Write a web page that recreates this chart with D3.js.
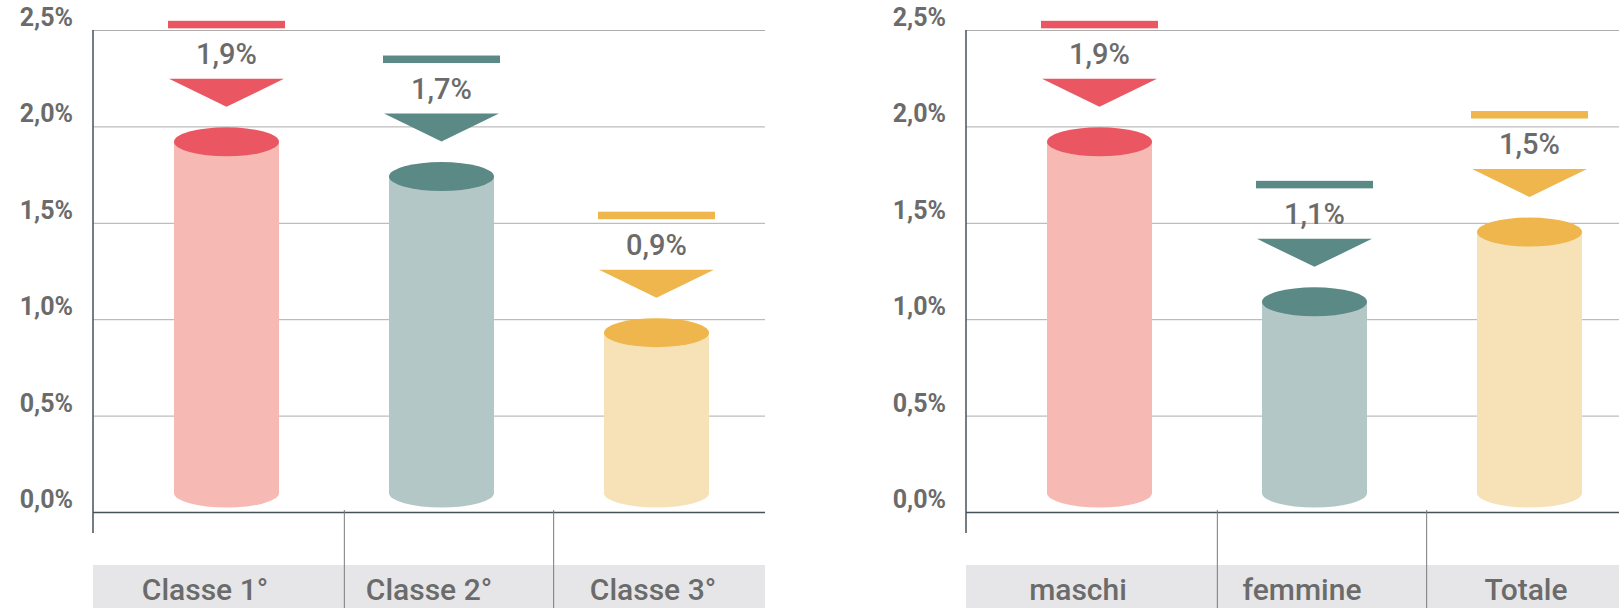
<!DOCTYPE html>
<html>
<head>
<meta charset="utf-8">
<script src="https://cdn.jsdelivr.net/npm/d3@7"></script>
<style>
  body { margin: 0; background: #fff; overflow: hidden; }
  text { font-family: Roboto, sans-serif; fill: #6b6b6b; }
</style>
</head>
<body>
<script>
const classes = ['Classe 1°', 'Classe 2°', 'Classe 3°']
const classValues = [1.92, 1.74, 0.93]
const genders = ['maschi', 'femmine', 'Totale']
const genderValues = [1.92, 1.09, 1.452]
const yTicks = [0, 0.5, 1, 1.5, 2, 2.5]

const palette = [
  { top: '#ea5763', body: '#f6b9b3' },
  { top: '#5a8986', body: '#b4c7c7' },
  { top: '#eeb64c', body: '#f7e2b8' }
]

const width = 1619, height = 608
const W = 672          // width of one chart panel
const cylW = 105, ry = 14.5

const loc = d3.formatLocale({ decimal: ',', thousands: '.', grouping: [3], currency: ['€', ''] })
const pct = v => loc.format('.1f')(v) + '%'

const y = d3.scaleLinear().domain([0, 2.5]).range([512, 30])
const base = y(0) - 19

const svg = d3.select('body')
  .append('svg')
  .attr('width', width)
  .attr('height', height)

function drawChart (x0, cats, values) {
  const g = svg.append('g').attr('transform', `translate(${x0},0)`)
  const x = d3.scaleBand().domain(cats).range([26, 671])
  const cells = d3.scaleBand().domain(cats).range([42, 670])
  const xl = d3.scalePoint().domain(cats).range([112, 560])

  // grid + tick labels
  const axis = g.append('g')
    .call(d3.axisLeft(y).tickValues(yTicks).tickSize(-W).tickPadding(20).tickFormat(pct))
  axis.select('.domain').remove()
  axis.selectAll('.tick line')
    .attr('stroke', d => d === 0 ? '#46525a' : '#adadad')
    .attr('stroke-width', d => d === 0 ? 1.5 : 1)
  axis.selectAll('.tick text')
    .attr('dy', '-0.18em')
    .style('font-family', 'Roboto, sans-serif')
    .style('font-size', '25px')
    .style('font-weight', 700)
    .attr('fill', '#6b6b6b')

  // vertical axis line
  g.append('line')
    .attr('x1', 0).attr('x2', 0)
    .attr('y1', y(2.5)).attr('y2', y(0) + 21)
    .attr('stroke', '#46525a')
    .attr('stroke-width', 1.5)

  // category band
  g.append('rect')
    .attr('x', 0).attr('y', 565)
    .attr('width', W).attr('height', height - 565)
    .attr('fill', '#e6e6e8')

  g.selectAll('.sep').data(cats.slice(1)).enter()
    .append('line')
    .attr('x1', d => cells(d)).attr('x2', d => cells(d))
    .attr('y1', y(0) - 2).attr('y2', height)
    .attr('stroke', '#7a7a7a')
    .attr('stroke-width', 1)

  g.selectAll('.cat').data(cats).enter()
    .append('text')
    .attr('x', d => xl(d))
    .attr('y', 600)
    .attr('text-anchor', 'middle')
    .style('font-size', '30px')
    .style('font-weight', 500)
    .text(d => d)

  const items = cats.map((c, i) => ({ c, v: values[i], col: palette[i] }))
  const cyl = g.selectAll('.cyl').data(items).enter().append('g')
  const cx = d => x(d.c) + x.bandwidth() / 2

  cyl.append('rect')
    .attr('x', d => cx(d) - cylW / 2)
    .attr('y', d => y(d.v))
    .attr('width', cylW)
    .attr('height', d => base - y(d.v))
    .attr('fill', d => d.col.body)
  cyl.append('ellipse')
    .attr('cx', cx).attr('cy', base)
    .attr('rx', cylW / 2).attr('ry', ry)
    .attr('fill', d => d.col.body)
  cyl.append('ellipse')
    .attr('cx', cx).attr('cy', d => y(d.v))
    .attr('rx', cylW / 2).attr('ry', ry)
    .attr('fill', d => d.col.top)

  // markers above each cylinder
  cyl.append('rect')
    .attr('x', d => cx(d) - 58.5)
    .attr('y', d => y(d.v) - 121)
    .attr('width', 117).attr('height', 7.5)
    .attr('fill', d => d.col.top)
  cyl.append('text')
    .attr('x', cx)
    .attr('y', d => y(d.v) - 78)
    .attr('text-anchor', 'middle')
    .style('font-size', '29px')
    .style('font-weight', 500)
    .text(d => pct(d.v))
  cyl.append('path')
    .attr('d', d => {
      const c = cx(d), t = y(d.v)
      return `M${c - 57.5},${t - 63}L${c + 57.5},${t - 63}L${c},${t - 35}Z`
    })
    .attr('fill', d => d.col.top)
}

drawChart(93, classes, classValues)
drawChart(966, genders, genderValues)
</script>
</body>
</html>
